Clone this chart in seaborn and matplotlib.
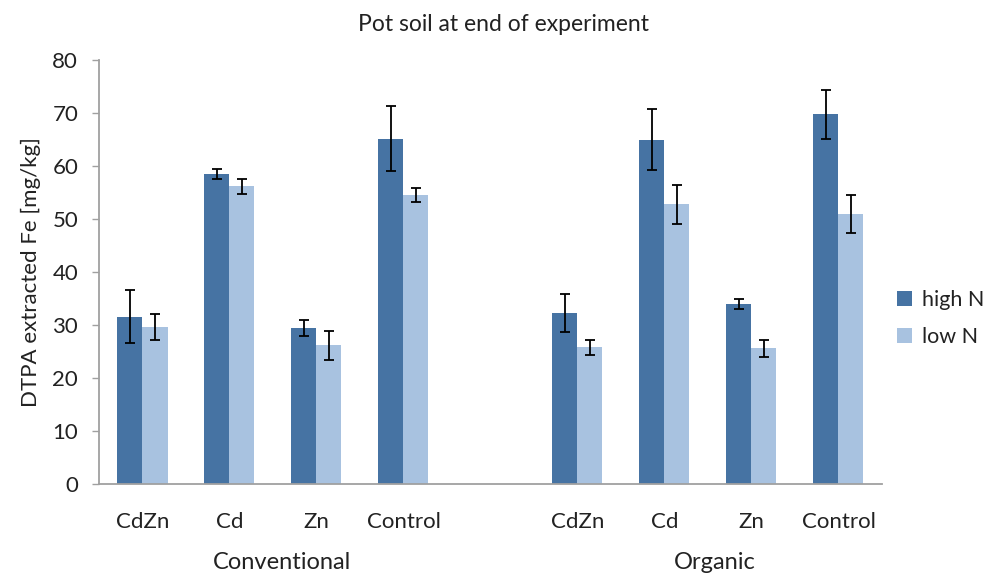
import matplotlib
matplotlib.use("Agg")
import matplotlib.pyplot as plt
import seaborn as sns
import pandas as pd
import numpy as np

# ---- data ----
treatments = ["CdZn", "Cd", "Zn", "Control"]
systems = ["Conventional", "Organic"]
series = ["high N", "low N"]

conv_high = [31.6, 58.5, 29.4, 65.2]
conv_low = [29.6, 56.2, 26.2, 54.5]
org_high = [32.3, 65.0, 34.0, 69.8]
org_low = [25.8, 52.8, 25.6, 50.9]

conv_high_err = [5.0, 1.0, 1.5, 6.1]
conv_low_err = [2.5, 1.4, 2.7, 1.3]
org_high_err = [3.6, 5.7, 0.9, 4.6]
org_low_err = [1.4, 3.7, 1.65, 3.6]

title = "Pot soil at end of experiment"
ylabel = "DTPA extracted Fe [mg/kg]"
yticks = [0, 10, 20, 30, 40, 50, 60, 70, 80]

colors = {"high N": "#4673A3", "low N": "#A8C2E0"}

# ---- build table ----
rows = []
for sys_name, hi, lo, hie, loe in [
    ("Conventional", conv_high, conv_low, conv_high_err, conv_low_err),
    ("Organic", org_high, org_low, org_high_err, org_low_err),
]:
    for t, h, l, he, le in zip(treatments, hi, lo, hie, loe):
        key = f"{sys_name}|{t}"
        rows.append({"slot": key, "series": "high N", "value": h, "err": he})
        rows.append({"slot": key, "series": "low N", "value": l, "err": le})
df = pd.DataFrame(rows)

order = [f"Conventional|{t}" for t in treatments] + ["gap"] + [f"Organic|{t}" for t in treatments]

sns.set_theme(style="white")
plt.rcParams["font.family"] = ["Lato", "DejaVu Sans"]

TXT = "#222222"
fig = plt.figure(figsize=(10.06, 5.79), dpi=100)
ax = fig.add_axes([0.0984, 0.164, 0.7783, 0.732])

sns.barplot(data=df, x="slot", y="value", hue="series", order=order,
            hue_order=series, palette=colors, errorbar=None, width=0.575,
            saturation=1, linewidth=0, ax=ax, legend=True)

# error bars placed at the bar patches' centres
data_keys = [o for o in order if o != "gap"]
for cont, s in zip(ax.containers, series):
    sub = df[df.series == s].set_index("slot")
    keys = data_keys if len(cont.patches) == len(data_keys) else order
    for bar, key in zip(cont.patches, keys):
        if key not in sub.index:
            continue
        xc = bar.get_x() + bar.get_width() / 2
        ax.errorbar(xc, sub.loc[key, "value"], yerr=sub.loc[key, "err"],
                    fmt="none", ecolor="black", elinewidth=1.3, capsize=3.5,
                    capthick=1.3, zorder=5)

ax.set_ylim(0, 80)
ax.set_xlim(-0.5, len(order) - 0.5)
ax.set_yticks(yticks)
ax.set_yticklabels([str(v) for v in yticks], fontsize=16)
ax.set_xticks(range(len(order)))
ax.set_xticklabels([o.split("|")[1] if "|" in o else "" for o in order], fontsize=16)
ax.tick_params(axis="x", length=0, pad=20, colors=TXT)
ax.tick_params(axis="y", length=5, width=1, color="#A0A0A0", pad=10, left=True, labelcolor=TXT)
ax.set_xlabel("")
ax.set_ylabel(ylabel, fontsize=16, color=TXT, labelpad=8)

for side in ["top", "right"]:
    ax.spines[side].set_visible(False)
for side in ["left", "bottom"]:
    ax.spines[side].set_color("#A0A0A0")
    ax.spines[side].set_linewidth(1.3)

# group labels
ax.text(1.6, -0.185, systems[0], transform=ax.get_xaxis_transform(), ha="center", va="center", fontsize=17, color=TXT)
ax.text(6.58, -0.185, systems[1], transform=ax.get_xaxis_transform(), ha="center", va="center", fontsize=17, color=TXT)

fig.suptitle(title, x=0.5, y=0.975, fontsize=16.5, color=TXT)

leg = ax.legend(loc="center left", bbox_to_anchor=(1.0, 0.39), frameon=False,
                fontsize=15.5, handlelength=0.7, handleheight=0.7, handletextpad=0.45,
                labelspacing=0.8, borderaxespad=0.3)
for t in leg.get_texts():
    t.set_color(TXT)

fig.savefig("out.png", dpi=100)
